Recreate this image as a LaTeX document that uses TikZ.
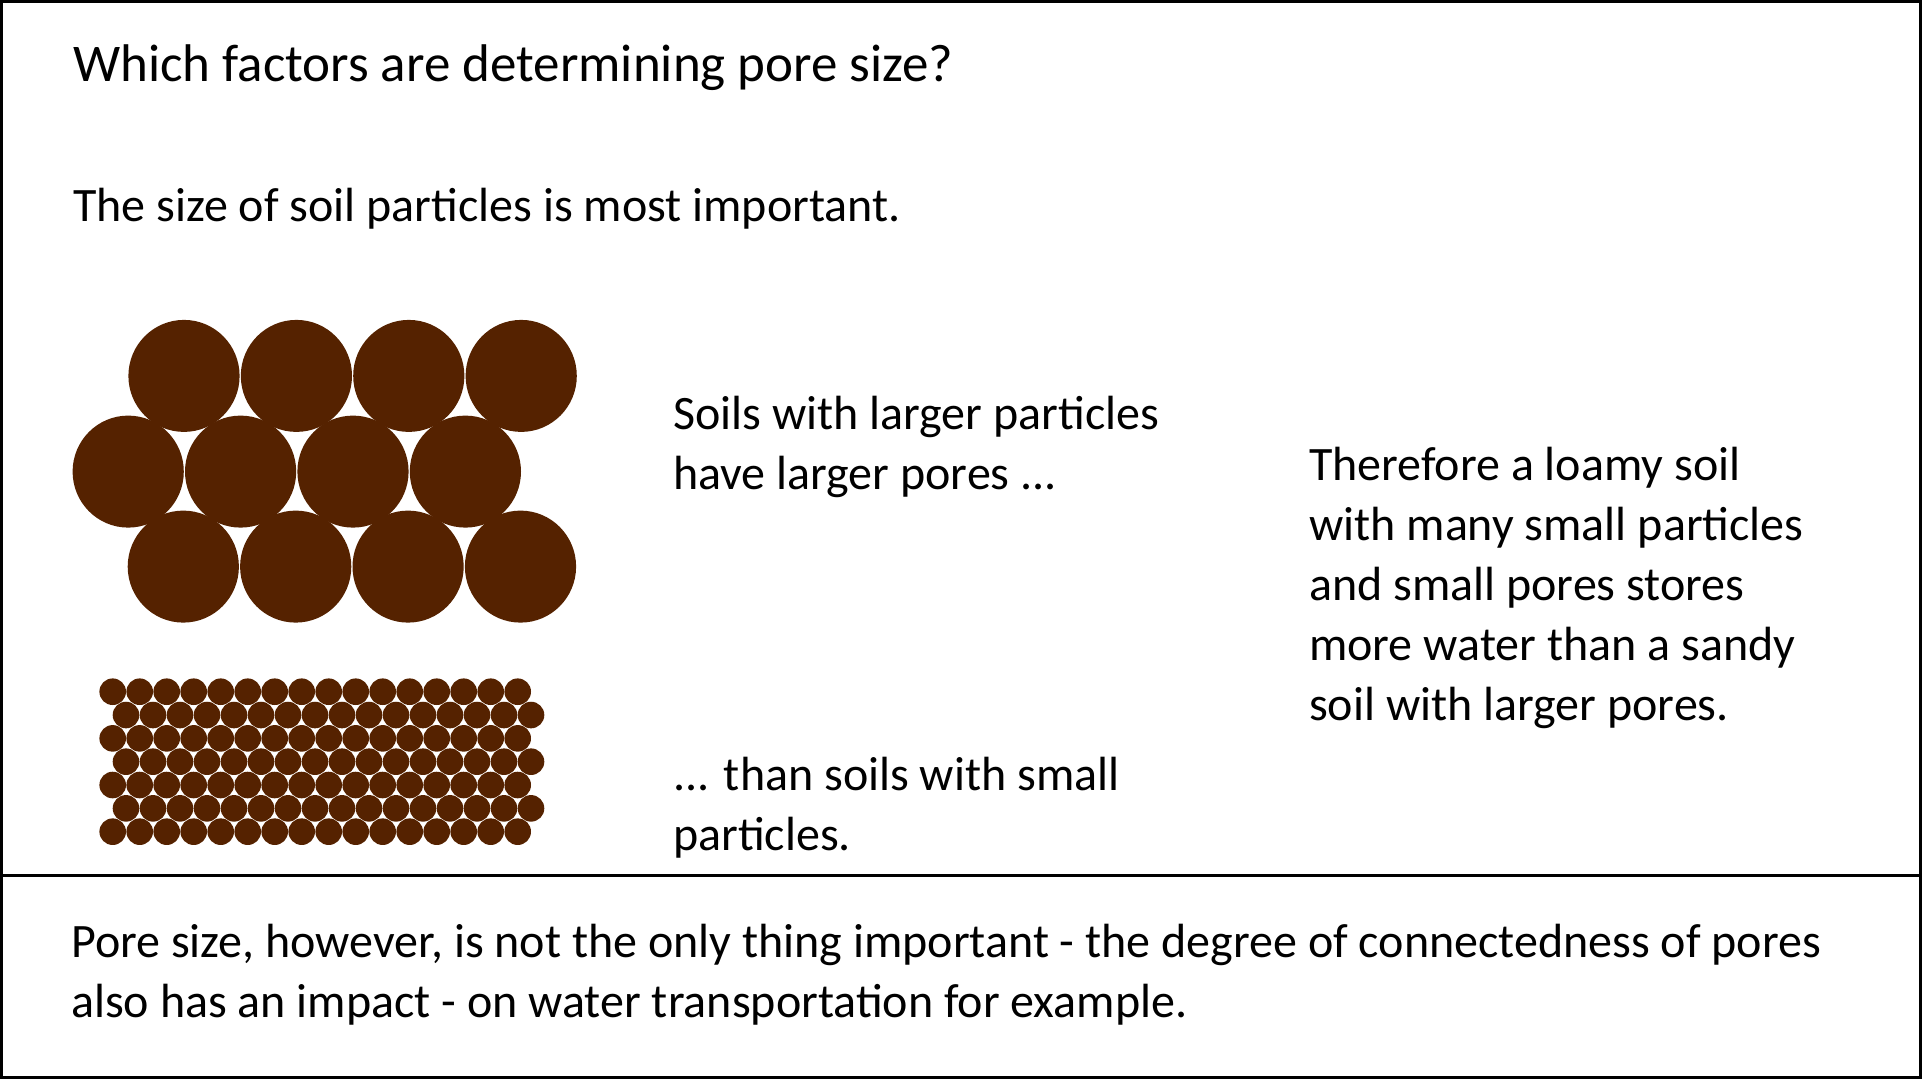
\documentclass[tikz,border=0pt]{standalone}
\usepackage{fontspec}
\setmainfont{Carlito}
\definecolor{soil}{RGB}{85,34,0}
\begin{document}
\begin{tikzpicture}[x=1pt,y=-1pt,
  txt/.style={anchor=base west,inner sep=0pt,font=\fontsize{48}{60}\selectfont},
  ttl/.style={anchor=base west,inner sep=0pt,font=\fontsize{53}{64}\selectfont},
  grain/.style={fill=soil},
  frame/.style={draw=black,line width=2.7pt}]
\useasboundingbox (0,0) rectangle (1923,1079);
\draw[frame] (1.35,1.35) rectangle (1920.3,1077.2);
\draw[frame] (0,875.8) -- (1918.5,875.8);
% large particles
\foreach \k in {0,1,2,3}{
  \fill[grain] (184+112.4*\k,375.9) ellipse [x radius=55.6,y radius=56];
  \fill[grain] (128.2+112.4*\k,471.6) ellipse [x radius=55.6,y radius=56];
  \fill[grain] (183.3+112.4*\k,566.6) ellipse [x radius=55.6,y radius=56];
}
% small particles
\foreach \r in {0,2,4,6}{
  \foreach \k in {0,...,15}{
    \fill[grain] (112.7+27*\k,691.7+23.33*\r) circle [radius=13.3];
  }
}
\foreach \r in {1,3,5}{
  \foreach \k in {0,...,15}{
    \fill[grain] (126+27*\k,691.7+23.33*\r) circle [radius=13.3];
  }
}
\node[ttl] (title) at (73,81.7) {Which factors are determining pore size?};
\node[txt] (intro) at (73,221.7) {The size of soil particles is most important.};
\node[txt] (large1) at (673,429) {Soils with larger particles};
\node[txt] (large2) at (673,489) {have larger pores ...};
\node[txt] (small1) at (673,790) {... than soils with small};
\node[txt] (small2) at (673,850) {particles.};
\node[txt] (th1) at (1309,480) {Therefore a loamy soil};
\node[txt] (th2) at (1309,540) {with many small particles};
\node[txt] (th3) at (1309,600) {and small pores stores};
\node[txt] (th4) at (1309,660) {more water than a sandy};
\node[txt] (th5) at (1309,720) {soil with larger pores.};
\node[txt] (foot1) at (71,957) {Pore size, however, is not the only thing important - the degree of connectedness of pores};
\node[txt] (foot2) at (71,1017) {also has an impact - on water transportation for example.};
\end{tikzpicture}
\end{document}
